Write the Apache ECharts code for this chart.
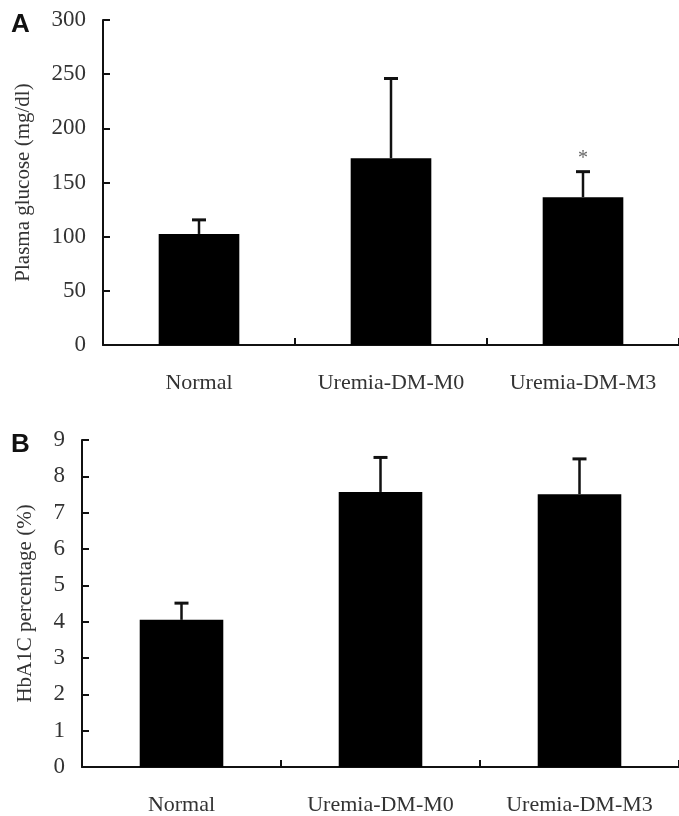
<!DOCTYPE html>
<html>
<head>
<meta charset="utf-8">
<script src="https://cdn.jsdelivr.net/npm/echarts@6/dist/echarts.min.js"></script>
<style>
  html, body { margin: 0; padding: 0; background: #fff; }
  #chart { width: 679px; height: 816px; }
</style>
</head>
<body>
<div id="chart"></div>
<script>
const categories = ['Normal', 'Uremia-DM-M0', 'Uremia-DM-M3'];
const glucoseMean = [102.5, 172.5, 136.5];
const glucoseUpper = [115.5, 246, 160];
const glucoseMarks = ['', '', '*'];
const hba1cMean = [4.05, 7.57, 7.51];
const hba1cUpper = [4.51, 8.52, 8.48];
const hba1cMarks = ['', '', ''];

const serif = '"Liberation Serif", "DejaVu Serif", serif';
const ink = '#111';

// upper-only error bar, with optional significance mark above the cap
function errorBar(params, api) {
  const i = api.value(0);
  const base = api.coord([i, api.value(1)]);
  const top = api.coord([i, api.value(2)]);
  const mark = api.value(3);
  const children = [
    { type: 'line', shape: { x1: base[0], y1: base[1], x2: top[0], y2: top[1] },
      style: { stroke: ink, lineWidth: 2.5 } },
    { type: 'line', shape: { x1: top[0] - 7, y1: top[1], x2: top[0] + 7, y2: top[1] },
      style: { stroke: ink, lineWidth: 3 } }
  ];
  if (mark) {
    children.push({ type: 'text', x: top[0], y: top[1] - 3,
      style: { text: mark, fill: '#666', font: '20px ' + serif, align: 'center', verticalAlign: 'bottom' } });
  }
  return { type: 'group', children };
}

function yAxis(gridIndex, name, max, interval, nameGap) {
  return {
    type: 'value', gridIndex, min: 0, max, interval, name,
    nameLocation: 'middle', nameGap,
    nameTextStyle: { fontFamily: serif, fontSize: 21, color: '#333' },
    axisLine: { show: true, lineStyle: { color: ink, width: 2 } },
    axisTick: { show: true, inside: true, length: 7, lineStyle: { color: ink, width: 2 } },
    axisLabel: { fontFamily: serif, fontSize: 23, color: '#333', margin: 17 },
    splitLine: { show: false }
  };
}

function xAxis(gridIndex) {
  return {
    type: 'category', gridIndex, data: categories,
    axisLine: { lineStyle: { color: ink, width: 2 } },
    axisTick: { show: true, inside: true, length: 7, lineStyle: { color: ink, width: 2 } },
    axisLabel: { fontFamily: serif, fontSize: 22, color: '#333', margin: 27 }
  };
}

const chart = echarts.init(document.getElementById('chart'), null, { renderer: 'canvas' });
chart.setOption({
  animation: false,
  backgroundColor: '#fff',
  grid: [
    { left: 103, top: 20, right: 0, height: 325 },
    { left: 82, top: 440, right: 0, height: 327 }
  ],
  xAxis: [xAxis(0), xAxis(1)],
  yAxis: [
    yAxis(0, 'Plasma glucose (mg/dl)', 300, 50, 69),
    yAxis(1, 'HbA1C percentage (%)', 9, 1, 46)
  ],
  graphic: [
    { type: 'text', left: 11, top: 12, style: { text: 'A', font: 'bold 26px "Liberation Sans", Arial, sans-serif', fill: '#111' } },
    { type: 'text', left: 11, top: 432, style: { text: 'B', font: 'bold 26px "Liberation Sans", Arial, sans-serif', fill: '#111' } }
  ],
  series: [
    { type: 'bar', xAxisIndex: 0, yAxisIndex: 0, data: glucoseMean, barWidth: '42%',
      itemStyle: { color: '#000' } },
    { type: 'custom', xAxisIndex: 0, yAxisIndex: 0, renderItem: errorBar, z: 3,
      data: categories.map((c, i) => [i, glucoseMean[i], glucoseUpper[i], glucoseMarks[i]]) },
    { type: 'bar', xAxisIndex: 1, yAxisIndex: 1, data: hba1cMean, barWidth: '42%',
      itemStyle: { color: '#000' } },
    { type: 'custom', xAxisIndex: 1, yAxisIndex: 1, renderItem: errorBar, z: 3,
      data: categories.map((c, i) => [i, hba1cMean[i], hba1cUpper[i], hba1cMarks[i]]) }
  ]
});
</script>
</body>
</html>
